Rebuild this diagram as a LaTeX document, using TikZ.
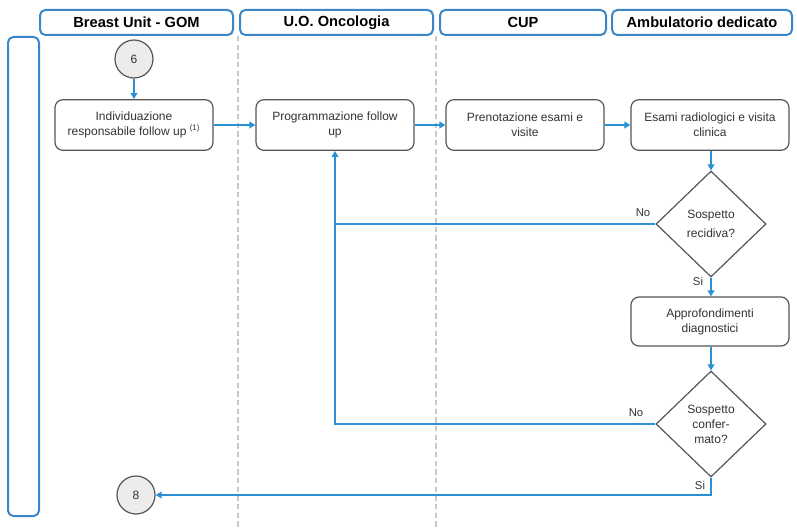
\documentclass[tikz,border=0pt]{standalone}
\usepackage{fontspec}
\setmainfont{Liberation Sans}
\usetikzlibrary{arrows.meta,shapes.geometric}
\definecolor{laneblue}{HTML}{3A86C6}
\definecolor{flowblue}{HTML}{2A92D4}
\definecolor{boxgray}{HTML}{555555}
\definecolor{textgray}{HTML}{333333}
\definecolor{sepgray}{HTML}{C9C9C9}
\definecolor{circfill}{HTML}{ECECEC}
\begin{document}
\begin{tikzpicture}[x=0.75pt,y=-0.75pt,
  lanehead/.style={draw=laneblue,line width=1.5pt,rounded corners=4pt,
    minimum height=18.75pt,inner sep=0pt,font=\bfseries\fontsize{11}{13}\selectfont},
  stepbox/.style={draw=boxgray,line width=0.9pt,rounded corners=6pt,fill=white,
    minimum width=118.5pt,minimum height=38pt,align=center,inner sep=2pt,
    text=textgray,font=\fontsize{9}{11.2}\selectfont},
  decision/.style={diamond,draw=boxgray,line width=0.9pt,fill=white,
    minimum width=82.5pt,minimum height=79.5pt,inner sep=0pt,align=center,
    text=textgray,font=\fontsize{9}{11.2}\selectfont},
  connector/.style={draw=boxgray,fill=circfill,circle,line width=0.9pt,
    minimum size=28.5pt,inner sep=0pt,text=textgray,font=\fontsize{9}{11}\selectfont},
  flow/.style={draw=flowblue,line width=1.3pt,-{Triangle[length=4.5pt,width=5pt]}},
  flowline/.style={draw=flowblue,line width=1.3pt},
  lbl/.style={font=\fontsize{8.5}{10}\selectfont,text=textgray,inner sep=1pt},
  separator/.style={draw=sepgray,line width=1.1pt,dash pattern=on 4pt off 2.5pt}]

\useasboundingbox (0,0) rectangle (797,528);

% lane separators
\draw[separator] (238,36) -- (238,528);
\draw[separator] (436,36) -- (436,528);

% lane headers
\node[lanehead,minimum width=144.75pt] (hbu)  at (136.5,22.5) {Breast Unit - GOM};
\node[lanehead,minimum width=144.75pt] (honc) at (336.5,22.5) {U.O. Oncologia};
\node[lanehead,minimum width=124.5pt]  (hcup) at (523,22.5)   {CUP};
\node[lanehead,minimum width=135pt]    (hamb) at (702,22.5)   {Ambulatorio dedicato};

% left side bar
\draw[laneblue,line width=1.5pt,rounded corners=4pt] (8,37) rectangle (39,516);

% steps
\node[connector] (c6) at (134,59) {6};
\node[stepbox] (ind)  at (134,125) {Individuazione\\responsabile follow up \textsuperscript{\fontsize{6}{7}\selectfont(1)}};
\node[stepbox] (prog) at (335,125) {Programmazione follow\\up};
\node[stepbox] (pren) at (525,125) {Prenotazione esami e\\visite};
\node[stepbox] (esam) at (710,125) {Esami radiologici e visita\\clinica};
\node[decision] (d1) at (711,224) {Sospetto\\[3pt]recidiva?};
\node[stepbox,minimum height=36.75pt] (appr) at (710,321.5) {Approfondimenti\\diagnostici};
\node[decision] (d2) at (711,424) {Sospetto\\confer-\\mato?};
\node[connector] (c8) at (136,495) {8};

% flow
\draw[flow] (c6) -- (ind);
\draw[flow] (ind) -- (prog);
\draw[flow] (prog) -- (pren);
\draw[flow] (pren) -- (esam);
\draw[flow] (esam.south -| d1.north) -- (d1.north);
\draw[flow] (d1.south) -- (appr.north -| d1.south);
\draw[flow] (appr.south -| d2.north) -- (d2.north);
\draw[flow] (d1.west) -- (prog.south |- d1.west) -- (prog.south);
\draw[flowline] (d2.west) -- (prog.south |- d2.west) -- (prog.south |- d1.west);
\coordinate (turn) at (d2.south |- c8);
\draw[flow] (d2.south) -- (turn) -- (c8.east);

% branch labels
\node[lbl] (no1) at (643,213) {No};
\node[lbl] (si1) at (698,281) {Si};
\node[lbl] (no2) at (636,413) {No};
\node[lbl] (si2) at (700,485) {Si};
\end{tikzpicture}
\end{document}
